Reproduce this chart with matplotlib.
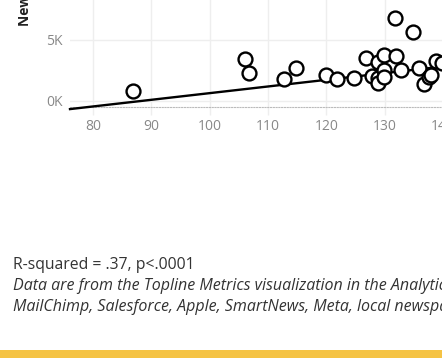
import matplotlib
matplotlib.use('Agg')
import numpy as np
import matplotlib.pyplot as plt
from matplotlib.ticker import FuncFormatter

# data (x = score, y = new subscribers in thousands)
score = [86.9, 106.0, 106.8, 112.8, 114.9, 119.9, 121.8, 124.8, 126.9, 127.8,
         128.8, 128.8, 128.8, 129.9, 129.9, 129.9, 131.8, 131.9, 132.9, 134.8,
         135.9, 136.8, 137.6, 138.0, 138.9, 139.8]
new_subs = [0.84, 3.40, 2.26, 1.82, 2.67, 2.15, 1.82, 1.90, 3.48, 2.04,
            3.16, 1.85, 1.44, 3.75, 2.53, 1.93, 6.75, 3.67, 2.53, 5.60,
            2.67, 1.36, 1.93, 2.10, 3.29, 3.07]
fit_slope = 0.0543
fit_intercept = -4.79
x_ticks = [80, 90, 100, 110, 120, 130, 140, 150, 160]
y_ticks = [0, 5]

stats_text = 'R-squared = .37, p<.0001'
note_lines = ['Data are from the Topline Metrics visualization in the Analytics dashboard',
              'MailChimp, Salesforce, Apple, SmartNews, Meta, local newspaper sites']

plt.rcParams['font.family'] = ['Open Sans', 'DejaVu Sans']

W, H = 442, 358
fig = plt.figure(figsize=(W / 100, H / 100), dpi=100)

# axes run past the top and right edge of the figure (cropped view)
xmin, xmax = 76.05, 160
ymin, ymax = -0.49, 10
px_x = 5.83
px_y = 12.26
left = 70
bottom = 107
ax = fig.add_axes([left / W, (H - bottom) / H,
                   (xmax - xmin) * px_x / W, (ymax - ymin) * px_y / H])
ax.set_xlim(xmin, xmax)
ax.set_ylim(ymin, ymax)

ax.set_xticks(x_ticks)
ax.set_yticks(y_ticks)
ax.yaxis.set_major_formatter(FuncFormatter(lambda v, p: '%dK' % v))
ax.grid(True, color='#eeeeee', linewidth=1)
ax.set_axisbelow(True)
for s in ['top', 'right', 'left']:
    ax.spines[s].set_visible(False)
ax.spines['bottom'].set_color('#bbbbbb')
ax.spines['bottom'].set_linestyle((0, (1, 1.5)))
ax.spines['bottom'].set_linewidth(0.8)
ax.tick_params(axis='x', length=6, color='#eeeeee', width=1, pad=3,
               labelsize=10, labelcolor='#888888')
ax.tick_params(axis='y', length=0, pad=5, labelsize=10, labelcolor='#888888')

fx = np.array([xmin, xmax])
ax.plot(fx, fit_slope * fx + fit_intercept, color='black', linewidth=1.7,
        clip_on=False, zorder=3)
ax.scatter(score, new_subs, s=100, facecolors='white', edgecolors='black',
           linewidths=1.7, zorder=4, clip_on=False)

fig.text(25 / W, (H - 26) / H, 'New Subscribers', rotation=90, ha='center',
         va='bottom', fontsize=10, fontweight='bold', color='#222222')

fig.text(13 / W, (H - 269) / H, stats_text, fontsize=11.3, color='#333333',
         va='baseline')
fig.text(13 / W, (H - 290) / H, note_lines[0], fontsize=11.5, color='#333333',
         style='italic', va='baseline')
fig.text(13 / W, (H - 311) / H, note_lines[1], fontsize=11.5, color='#333333',
         style='italic', va='baseline')

fig.patches.append(plt.Rectangle((0, 0), 1, 8 / H, transform=fig.transFigure,
                                 facecolor='#f5c344', edgecolor='none'))

fig.savefig('out.png', dpi=100)
